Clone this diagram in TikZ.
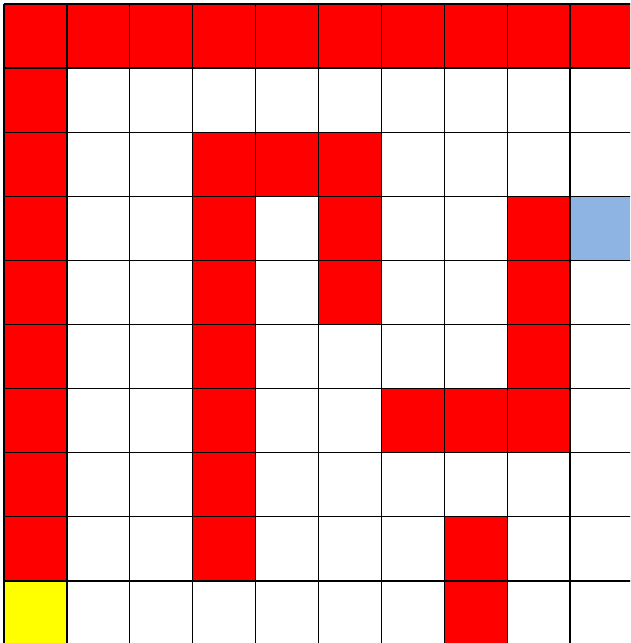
\documentclass[tikz,border=0pt]{standalone}
\definecolor{cellred}{RGB}{255,0,0}
\definecolor{cellblue}{RGB}{142,180,227}
\definecolor{cellyellow}{RGB}{255,255,0}
\tikzset{
  cell/.style={draw=black, line width=1.3pt},
}
\begin{document}
\begin{tikzpicture}[x=1pt,y=-1pt]
\useasboundingbox (0,0) rectangle (630,643);
\clip (0,0) rectangle (630,643);
\def\cw{62.9}
\def\ch{64.1}
\def\ox{4}
\def\oy{4}
% white cells
\foreach \r in {0,...,9}{
  \foreach \c in {0,...,9}{
    \fill[white] (\ox+\c*\cw,\oy+\r*\ch) rectangle ++(\cw,\ch);
  }
}
% red cells
\foreach \r/\c in {0/0,0/1,0/2,0/3,0/4,0/5,0/6,0/7,0/8,0/9,
  1/0,2/0,2/3,2/4,2/5,3/0,3/3,3/5,3/8,4/0,4/3,4/5,4/8,
  5/0,5/3,5/8,6/0,6/3,6/6,6/7,6/8,7/0,7/3,8/0,8/3,8/7,9/7}{
  \fill[cellred] (\ox+\c*\cw,\oy+\r*\ch) rectangle ++(\cw,\ch);
}
\fill[cellblue] (\ox+9*\cw,\oy+3*\ch) rectangle ++(\cw,\ch);
\fill[cellyellow] (\ox+0*\cw,\oy+9*\ch) rectangle ++(\cw,\ch);
% grid lines
\foreach \c in {0,...,10}{
  \draw[cell] (\ox+\c*\cw,\oy) -- (\ox+\c*\cw,\oy+10*\ch);
}
\foreach \r in {0,...,10}{
  \draw[cell] (\ox,\oy+\r*\ch) -- (\ox+10*\cw,\oy+\r*\ch);
}
\end{tikzpicture}
\end{document}
